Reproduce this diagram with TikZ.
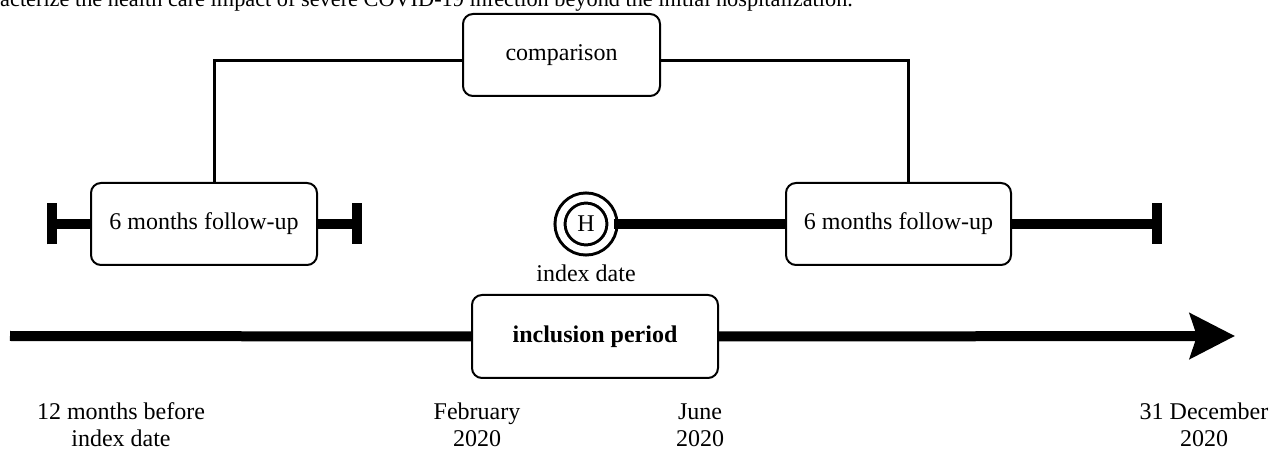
\documentclass[tikz,border=0pt]{standalone}
\usepackage{fontspec}
\setmainfont{Liberation Serif}
\usetikzlibrary{positioning,arrows.meta}

\begin{document}
\begin{tikzpicture}[x=1pt, y=-1pt, every node/.style={font=\fontsize{24}{27}\selectfont}]
      \tikzstyle{roundbox}=[draw, rounded corners=10pt, line width=2pt, fill=white, minimum width=226pt, minimum height=82pt]
      \tikzstyle{link}=[line width=3pt]
      \tikzstyle{heavy}=[line width=10pt]
      \tikzstyle{datelabel}=[align=center, inner sep=0pt]
      \clip (0,0) rectangle (1270,454);
      % caption line, cut off by the crop
      \node[anchor=base west, inner sep=0pt, font=\fontsize{22.3}{26}\selectfont] (caption) at (0,7) {acterize the health care impact of severe COVID-19 infection beyond the initial hospitalization.};
      \node[roundbox, minimum width=197pt] (cmp) at (561.5,55) {comparison};
      \node[roundbox] (fu1) at (204,224) {6 months follow-up};
      \node[roundbox, minimum width=225pt] (fu2) at (898.5,224) {6 months follow-up};
      \node[circle, draw, line width=3pt, double, double distance=7pt, minimum size=52pt, inner sep=0pt] (hosp) at (586,224) {H};
      \node[below=13pt of hosp, inner sep=0pt] (idx) {index date};
      \coordinate (bar1) at (47,224);
      \coordinate (bar2) at (362,224);
      \coordinate (bar3) at (1162,224);
      \draw[link] ([yshift=-6pt]cmp.west) -| ([xshift=10pt]fu1.north);
      \draw[link] ([yshift=-6pt]cmp.east) -| ([xshift=9.5pt]fu2.north);
      \draw[heavy, {Bar[width=41pt]}-] (bar1) -- (fu1.west);
      \draw[heavy, -{Bar[width=41pt]}] (fu1.east) -- (bar2);
      \draw[heavy] (hosp.east) -- (fu2.west);
      \draw[heavy, -{Bar[width=41pt]}] (fu2.east) -- (bar3);
      % time axis
      \coordinate (tstart) at (10,336);
      \coordinate (tend) at (1235,336);
      \node[roundbox, minimum width=246pt, minimum height=83pt, font=\fontsize{24}{27}\selectfont\bfseries] (incl) at (595,336.5) {inclusion period};
      \draw[heavy] (tstart) -- (incl.west);
      \draw[heavy, -{Stealth[length=45pt, width=45pt, inset=7pt]}] (incl.east) -- (tend);
      \node[datelabel] (lbl12) at (121,425) {12 months before\\index date};
      \node[datelabel] (lblfeb) at (477,425) {February\\2020};
      \node[datelabel] (lbljun) at (700,425) {June\\2020};
      \node[datelabel] (lbldec) at (1204,425) {31 December\\2020};
    \end{tikzpicture}
\end{document}
